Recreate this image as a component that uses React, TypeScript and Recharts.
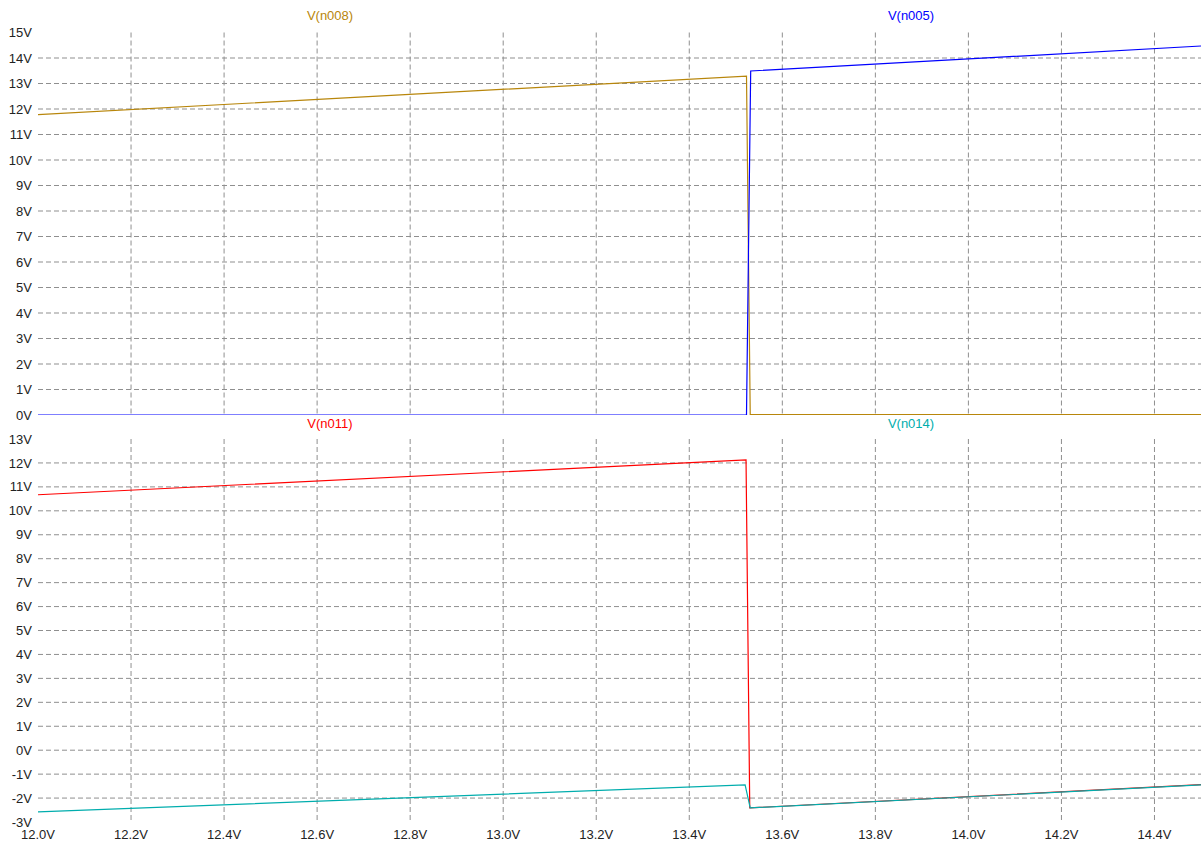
import React from "react";
import { LineChart, Line, XAxis, YAxis, CartesianGrid, Legend } from "recharts";

// Sweep range (source voltage) and tick positions
const sweepDomain: [number, number] = [12.0, 14.5];
const sweepTicks = [12.0, 12.2, 12.4, 12.6, 12.8, 13.0, 13.2, 13.4, 13.6, 13.8, 14.0, 14.2, 14.4];
const sweepGrid = [12.2, 12.4, 12.6, 12.8, 13.0, 13.2, 13.4, 13.6, 13.8, 14.0, 14.2, 14.4];

// Upper pane ticks
const upperTicks = [0, 1, 2, 3, 4, 5, 6, 7, 8, 9, 10, 11, 12, 13, 14, 15];
const upperGrid = [1, 2, 3, 4, 5, 6, 7, 8, 9, 10, 11, 12, 13, 14];

// Lower pane ticks
const lowerTicks = [-3, -2, -1, 0, 1, 2, 3, 4, 5, 6, 7, 8, 9, 10, 11, 12, 13];
const lowerGrid = [-2, -1, 0, 1, 2, 3, 4, 5, 6, 7, 8, 9, 10, 11, 12];

// Node voltages vs. sweep
const n008X = [12.0, 13.523, 13.531, 14.5];
const n008Y = [11.78, 13.29, 0.02, 0.02];

const n005X = [12.0, 13.523, 13.532, 14.5];
const n005Y = [0, 0, 13.49, 14.47];

const n011X = [12.0, 13.522, 13.53, 14.5];
const n011Y = [10.67, 12.13, -2.41, -1.44];

const n014X = [12.0, 13.52, 13.531, 14.5];
const n014Y = [-2.58, -1.45, -2.41, -1.45];

const zipSeries = (xs: number[], ys: number[]) => xs.map((x, i) => ({ x, v: ys[i] }));

const fmtV = (v: number) => `${v}V`;
const fmtSweep = (v: number) => `${v.toFixed(1)}V`;

const FONT = "Liberation Sans, Arial, sans-serif";
const GRID = "#8f8f8f";

type Trace = { name: string; color: string; xs: number[]; ys: number[] };

const upperTraces: Trace[] = [
  { name: "V(n008)", color: "#b8860b", xs: n008X, ys: n008Y },
  { name: "V(n005)", color: "#0000ff", xs: n005X, ys: n005Y },
];
const lowerTraces: Trace[] = [
  { name: "V(n011)", color: "#ff0000", xs: n011X, ys: n011Y },
  { name: "V(n014)", color: "#00adad", xs: n014X, ys: n014Y },
];

// Title centers for the first and second trace of a pane
const titleCenters = [330, 911];

// Trace names drawn as centered titles above each half of the pane
const makeTitleRow = (traces: Trace[]) => (props: any) => {
  const items = props.payload || [];
  return (
    <div style={{ position: "relative", width: 1201, height: 16 }}>
      {items.map((it: any) => {
        const idx = Math.max(0, traces.findIndex((t) => t.name === it.value));
        return (
          <span
            key={it.value}
            style={{
              position: "absolute",
              left: titleCenters[idx] - 60,
              width: 120,
              textAlign: "center",
              top: 0,
              fontFamily: FONT,
              fontSize: 13,
              lineHeight: "16px",
              color: it.color,
            }}
          >
            {it.value}
          </span>
        );
      })}
    </div>
  );
};

type PaneProps = {
  traces: Trace[];
  height: number;
  margin: { top: number; right: number; bottom: number; left: number };
  yDomain: [number, number];
  yTicks: number[];
  yGrid: number[];
  showX: boolean;
  titleTop: number;
};

const Pane = ({ traces, height, margin, yDomain, yTicks, yGrid, showX, titleTop }: PaneProps) => (
  <LineChart width={1201} height={height} margin={margin}>
    <CartesianGrid
      stroke={GRID}
      strokeDasharray="5 3"
      horizontalValues={yGrid}
      verticalValues={sweepGrid}
    />
    <XAxis
      dataKey="x"
      type="number"
      domain={sweepDomain}
      ticks={sweepTicks}
      allowDataOverflow
      hide={!showX}
      height={showX ? 23 : 0}
      axisLine={false}
      tickLine={false}
      tickSize={4}
      tickMargin={4}
      tickFormatter={fmtSweep}
      tick={{ fill: "#222", fontSize: 13, fontFamily: FONT }}
      interval={0}
    />
    <YAxis
      type="number"
      domain={yDomain}
      ticks={yTicks}
      width={38}
      axisLine={false}
      tickLine={false}
      tickSize={4}
      tickMargin={2}
      tickFormatter={fmtV}
      tick={{ fill: "#222", fontSize: 13, fontFamily: FONT }}
      interval={0}
      allowDataOverflow
    />
    <Legend
      layout="horizontal"
      verticalAlign="middle"
      content={makeTitleRow(traces)}
      wrapperStyle={{ position: "absolute", top: titleTop, left: 0, width: 1201, height: 16 }}
    />
    {traces.map((t) => (
      <Line
        key={t.name}
        name={t.name}
        data={zipSeries(t.xs, t.ys)}
        dataKey="v"
        type="linear"
        stroke={t.color}
        strokeWidth={1.2}
        dot={false}
        activeDot={false}
        isAnimationActive={false}
      />
    ))}
  </LineChart>
);

export default function App() {
  return (
    <div style={{ position: "relative", width: 1201, height: 845, background: "#fff", overflow: "hidden" }}>
      <style>{`body{margin:0;background:#fff}`}</style>
      <div style={{ position: "absolute", left: 0, top: 0 }}>
        <Pane
          traces={upperTraces}
          height={432}
          margin={{ top: 32.5, right: 0, bottom: 17, left: 0 }}
          yDomain={[0, 15]}
          yTicks={upperTicks}
          yGrid={upperGrid}
          showX={false}
          titleTop={8}
        />
      </div>
      <div style={{ position: "absolute", left: 0, top: 420 }}>
        <Pane
          traces={lowerTraces}
          height={425}
          margin={{ top: 19, right: 0, bottom: 0, left: 0 }}
          yDomain={[-3, 13]}
          yTicks={lowerTicks}
          yGrid={lowerGrid}
          showX={true}
          titleTop={-4}
        />
      </div>
    </div>
  );
}
